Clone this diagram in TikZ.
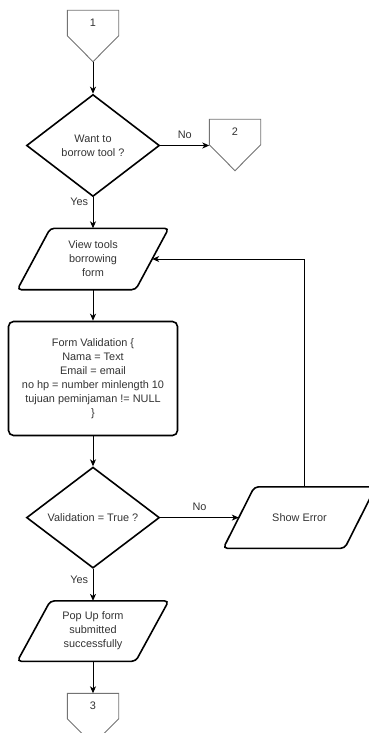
\documentclass[tikz,border=0pt]{standalone}
\usepackage{fontspec}
\setmainfont{Liberation Sans}
\usetikzlibrary{positioning}
\usetikzlibrary{arrows.meta}
\usetikzlibrary{shapes.geometric}

\begin{document}
\begin{tikzpicture}[
        x=1pt, y=1pt,
        font=\fontsize{10.9}{14}\selectfont,
        text=black!80,
        decision/.style={draw, diamond, aspect=1.3, inner sep=0pt, align=center,
                         minimum width=133pt, minimum height=102pt, line width=1.6pt},
        io/.style={rectangle, align=center, inner sep=1pt,
                   minimum width=118pt, minimum height=61pt},
        ioline/.style={draw, rounded corners=4pt, line width=1.6pt},
        process/.style={draw, rectangle, rounded corners=5pt, align=center,
                        minimum width=169pt, minimum height=114pt, line width=1.6pt},
        offpage/.style={rectangle, minimum width=51pt, minimum height=25pt, inner sep=0pt},
        offline/.style={draw=black!55, line width=0.9pt},
        arrow/.style={-{Stealth[length=7pt,width=6pt,inset=2pt]}, line width=1pt},
        lbl/.style={font=\fontsize{10.9}{14}\selectfont}
    ]
        \useasboundingbox (0,0) rectangle (369,-733);

        \node[offpage] (c1) at (93,-23) {1};
        \node[decision, below=58pt of c1] (q1) {Want to\\borrow tool ?};
        \node[offpage, right=49pt of q1, yshift=13.5pt] (c2) {2};
        \node[io, below=31pt of q1] (view) {View tools\\borrowing\\form};
        \node[process, below=31pt of view] (valid) {Form Validation \{\\Nama = Text\\Email = email\\no hp = number minlength 10\\tujuan peminjaman != NULL\\\}};
        \node[decision, below=30pt of valid, minimum height=101pt] (q2) {Validation = True ?};
        \node[io, right=78.5pt of q2, minimum width=121pt] (err) {Show Error};
        \node[io, below=32pt of q2, minimum height=60pt] (popup) {Pop Up form\\submitted\\successfully};
        \node[offpage, below=32pt of popup] (c3) {3};

        % parallelogram outlines
        \foreach \p/\s in {view/16.5,err/15.5,popup/16.5}{
            \draw[ioline] ([xshift=-\s pt]\p.south west) -- ([xshift=-\s pt]\p.south east)
                -- ([xshift=\s pt]\p.north east) -- ([xshift=\s pt]\p.north west) -- cycle;
        }

        % off-page connector outlines
        \foreach \c in {c1,c2,c3}{
            \draw[offline] (\c.north west) -- (\c.north east) -- (\c.south east)
                -- ([yshift=-26pt]\c.south) -- (\c.south west) -- cycle;
            \coordinate (\c tip) at ([yshift=-26pt]\c.south);
        }

        \draw[arrow] (c1tip) -- (q1);
        \draw[arrow] (q1.east) -- (q1.east -| c2.west) node[lbl, midway, above=3pt] {No};
        \draw[arrow] (q1) -- (view) node[lbl, pos=0.15, left=1pt] {Yes};
        \draw[arrow] (view) -- (valid);
        \draw[arrow] (valid) -- (q2);
        \draw[arrow] (q2) -- (err) node[lbl, midway, above=3pt] {No};
        \draw[arrow] ([xshift=5pt]err.north) |- (view.east);
        \draw[arrow] (q2) -- (popup) node[lbl, pos=0.35, left=1pt] {Yes};
        \draw[arrow] (popup) -- (c3);
    \end{tikzpicture}
\end{document}
